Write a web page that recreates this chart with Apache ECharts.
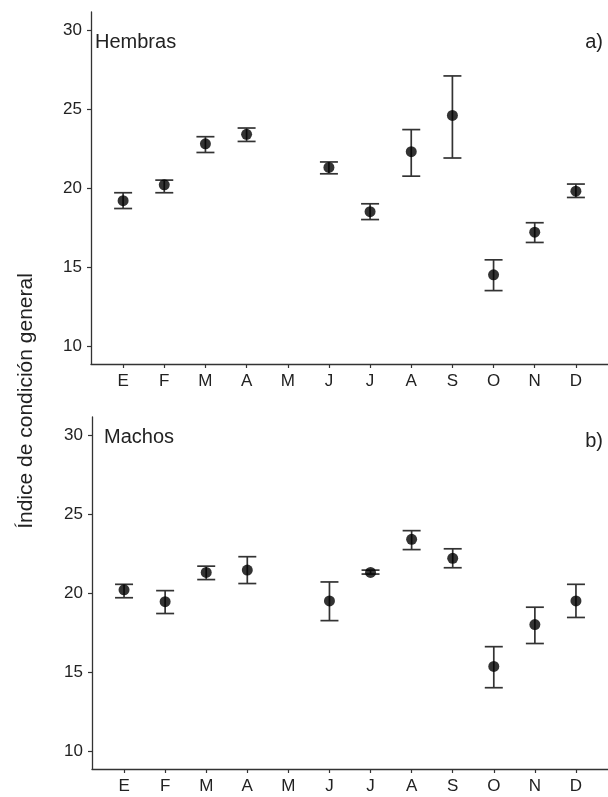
<!DOCTYPE html>
<html><head><meta charset="utf-8">
<script src="https://cdn.jsdelivr.net/npm/echarts@6/dist/echarts.min.js"></script>
<style>html,body{margin:0;padding:0;background:#fff}#c{width:608px;height:797px}</style>
</head><body><div id="c"></div>
<script>
const months = ['E','F','M','A','M','J','J','A','S','O','N','D'];
const yTicks = [10, 15, 20, 25, 30];
const hembrasMean = [19.2, 20.2, 22.8, 23.4, null, 21.3, 18.5, 22.3, 24.6, 14.5, 17.2, 19.8];
const hembrasLow  = [18.7, 19.7, 22.25, 22.95, null, 20.9, 18.0, 20.75, 21.9, 13.5, 16.55, 19.4];
const hembrasHigh = [19.7, 20.5, 23.25, 23.8, null, 21.65, 19.0, 23.7, 27.1, 15.45, 17.8, 20.25];
const machosMean = [20.2, 19.45, 21.3, 21.45, null, 19.5, 21.3, 23.4, 22.2, 15.35, 18.0, 19.5];
const machosLow  = [19.7, 18.7, 20.85, 20.6, null, 18.25, 21.2, 22.75, 21.6, 14.0, 16.8, 18.45];
const machosHigh = [20.55, 20.15, 21.7, 22.3, null, 20.7, 21.45, 23.95, 22.8, 16.6, 19.1, 20.55];

const FONT = 'Liberation Sans, Arial, sans-serif';
const AX = '#333';
const monthIdx = months.map((m, i) => i);

function errRender(params, api) {
  const x = api.value(0), lo = api.value(1), hi = api.value(2);
  const pLo = api.coord([x, lo]), pHi = api.coord([x, hi]);
  const hw = 9;
  const st = () => ({ stroke: '#333', lineWidth: 1.7, fill: null });
  return { type: 'group', children: [
    { type: 'line', shape: { x1: pLo[0], y1: pLo[1], x2: pHi[0], y2: pHi[1] }, style: st() },
    { type: 'line', shape: { x1: pLo[0] - hw, y1: pLo[1], x2: pLo[0] + hw, y2: pLo[1] }, style: st() },
    { type: 'line', shape: { x1: pHi[0] - hw, y1: pHi[1], x2: pHi[0] + hw, y2: pHi[1] }, style: st() }
  ]};
}
function errData(lo, hi) {
  const out = [];
  lo.forEach((v, i) => { if (v != null) out.push([i, v, hi[i]]); });
  return out;
}
function ptData(mean) {
  const out = [];
  mean.forEach((v, i) => { if (v != null) out.push([i, v]); });
  return out;
}
function xAx(gi) {
  return {
    type: 'value', gridIndex: gi, min: -0.78, max: 11.78,
    axisLine: { show: true, onZero: false, lineStyle: { color: AX, width: 1.3 } },
    axisTick: { show: true, customValues: monthIdx, length: 4, lineStyle: { color: AX, width: 1.2 } },
    axisLabel: { customValues: monthIdx, formatter: v => months[Math.round(v)], fontFamily: FONT, fontSize: 17, color: '#222', margin: 9 },
    splitLine: { show: false }
  };
}
function yAx(gi) {
  return {
    type: 'value', gridIndex: gi, min: 8.85, max: 31.15,
    axisLine: { show: true, onZero: false, lineStyle: { color: AX, width: 1.3 } },
    axisTick: { show: true, customValues: yTicks, length: 4, lineStyle: { color: AX, width: 1.2 } },
    axisLabel: { customValues: yTicks, fontFamily: FONT, fontSize: 17, color: '#222', margin: 9 },
    splitLine: { show: false }
  };
}

const chart = echarts.init(document.getElementById('c'), null, { renderer: 'canvas' });
chart.setOption({
  animation: false,
  backgroundColor: '#fff',
  grid: [
    { left: 91, top: 12, width: 521, height: 352 },
    { left: 92, top: 417, width: 521, height: 352 }
  ],
  xAxis: [xAx(0), xAx(1)],
  yAxis: [yAx(0), yAx(1)],
  series: [
    { type: 'custom', xAxisIndex: 0, yAxisIndex: 0, renderItem: errRender, data: errData(hembrasLow, hembrasHigh), z: 2 },
    { type: 'scatter', xAxisIndex: 0, yAxisIndex: 0, symbolSize: 11, itemStyle: { color: '#000' }, data: ptData(hembrasMean), z: 3 },
    { type: 'custom', xAxisIndex: 1, yAxisIndex: 1, renderItem: errRender, data: errData(machosLow, machosHigh), z: 2 },
    { type: 'scatter', xAxisIndex: 1, yAxisIndex: 1, symbolSize: 11, itemStyle: { color: '#000' }, data: ptData(machosMean), z: 3 }
  ],
  graphic: [
    { type: 'text', left: 95, top: 32, style: { text: 'Hembras', font: '20px ' + FONT, fill: '#222' } },
    { type: 'text', right: 5, top: 32, style: { text: 'a)', font: '20px ' + FONT, fill: '#222' } },
    { type: 'text', left: 104, top: 427, style: { text: 'Machos', font: '20px ' + FONT, fill: '#222' } },
    { type: 'text', right: 5, top: 431, style: { text: 'b)', font: '20px ' + FONT, fill: '#222' } },
    { type: 'text', x: 26, y: 401, rotation: Math.PI / 2, style: { text: 'Índice de condición general', font: '21px ' + FONT, fill: '#222', align: 'center', verticalAlign: 'middle' } }
  ]
});
</script></body></html>
